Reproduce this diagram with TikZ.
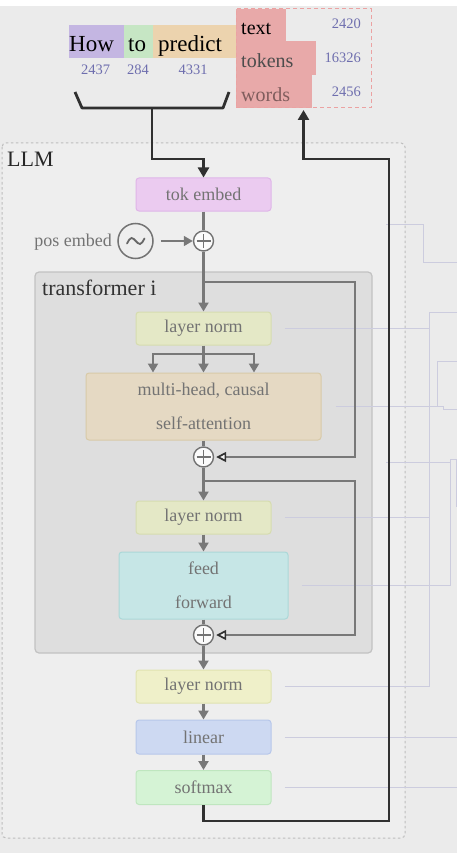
\documentclass[tikz,border=0pt]{standalone}
\usepackage{fontspec}
\setmainfont{Liberation Serif}
\usetikzlibrary{arrows.meta,calc}

\definecolor{bgout}{HTML}{EBEBEB}
\definecolor{bgin}{HTML}{EEEEEE}
\definecolor{llmline}{HTML}{BDBDBD}
\definecolor{trfill}{HTML}{DEDEDE}
\definecolor{trline}{HTML}{C2C2C2}
\definecolor{txtgray}{HTML}{737373}
\definecolor{numblue}{HTML}{6E6EAE}
\definecolor{cHow}{HTML}{C4B6E2}
\definecolor{cTo}{HTML}{C6E6C4}
\definecolor{cPred}{HTML}{ECD3AE}
\definecolor{cRed}{HTML}{E8A9A9}
\definecolor{cRedLine}{HTML}{EBA2A2}
\definecolor{tokF}{HTML}{EBCBF0}\definecolor{tokD}{HTML}{DFB5E8}
\definecolor{lnF}{HTML}{E4E8C6}\definecolor{lnD}{HTML}{D6DCAF}
\definecolor{lnoF}{HTML}{EFF0C9}\definecolor{lnoD}{HTML}{E0E3B0}
\definecolor{attF}{HTML}{E5D9C3}\definecolor{attD}{HTML}{D8CAA8}
\definecolor{ffF}{HTML}{C6E6E6}\definecolor{ffD}{HTML}{ABD8D8}
\definecolor{linF}{HTML}{CDD9F2}\definecolor{linD}{HTML}{B7C7EA}
\definecolor{smF}{HTML}{D5F3D5}\definecolor{smD}{HTML}{BFE6BF}
\definecolor{conngray}{HTML}{787878}
\definecolor{darkline}{HTML}{303030}
\definecolor{faintline}{HTML}{CCCCDE}

\newcommand\fsz[2]{\fontsize{#1}{#2}\selectfont}

\begin{document}
\begin{tikzpicture}[x=1pt,y=-1pt,
  blockbox/.style={rounded corners=3pt, draw, line width=1pt, inner sep=0pt,
    text=txtgray, font=\fsz{18}{34}, align=center,
    minimum width=135pt, minimum height=33pt},
  plusnode/.style={circle, draw=txtgray, fill=white!75!bgin, line width=1.4pt,
    minimum size=20pt, inner sep=0pt},
  conn/.style={draw=conngray, line width=2.3pt},
  gtip/.style={-{Triangle[width=10pt,length=9pt]}},
  rtip/.style={-{Triangle[width=10pt,length=10pt,fill=white!60!trfill,color=darkline,line width=1.7pt]}},
  darkconn/.style={draw=darkline, line width=2.8pt, line join=miter},
  dtip/.style={-{Triangle[width=11pt,length=10pt]}},
  faint/.style={draw=faintline, line width=1pt},
  numtxt/.style={text=numblue, font=\fsz{14.5}{16}, inner sep=0pt},
  wordtxt/.style={font=\fsz{23}{26}, inner sep=0pt},
  redtxt/.style={font=\fsz{20}{22}, inner sep=0pt},
  wordbox/.style={inner sep=0pt, minimum height=33pt}
]
\useasboundingbox (0,0) rectangle (457,853);
\fill[white] (0,0) rectangle (457,853);
\fill[bgout] (0,6) rectangle (457,853);

% LLM container
\draw[llmline, line width=1pt, dash pattern=on 2.5pt off 2.5pt, fill=bgin, rounded corners=4pt]
  (2,143) rectangle (405,838);
\node[anchor=base west, inner sep=0pt, font=\fsz{22}{24}, text=black!85] (llmlabel) at (7,167) {LLM};

% transformer block
\draw[fill=trfill, draw=trline, line width=1.2pt, rounded corners=4pt] (35,272) rectangle (372,653);
\node[anchor=base west, inner sep=0pt, font=\fsz{22}{24}, text=black!80] (trlabel) at (42,295) {transformer i};

% faint leader lines to the right
\draw[faint] (386,224) -| (423,262) -- (457,262);
\draw[faint] (386,462) -- (450,462);

% input tokens
\node[wordbox, fill=cHow, minimum width=55pt] (wHow) at (96.5,41.5) {};
\node[wordbox, fill=cTo, minimum width=29pt] (wTo) at (138.5,41.5) {};
\node[wordbox, fill=cPred, minimum width=83pt] (wPred) at (194.5,41.5) {};
\node[wordtxt, anchor=base west] (tHow) at (69,52) {How};
\node[wordtxt, anchor=base west] (tTo) at (128,52) {to};
\node[wordtxt, anchor=base west] (tPred) at (158,52) {predict};
\node[numtxt, anchor=base] (nHow) at (95.5,75) {2437};
\node[numtxt, anchor=base] (nTo) at (138,75) {284};
\node[numtxt, anchor=base] (nPred) at (193,75) {4331};

% output distribution
\fill[cRed] (236,9) rectangle (286,41);
\fill[cRed] (236,41) rectangle (316,75);
\fill[cRed] (236,75) rectangle (312,108);
\node[draw=cRedLine, line width=1pt, dash pattern=on 4pt off 3pt, inner sep=0pt,
  minimum width=135pt, minimum height=99pt] (out) at (303.5,58.5) {};
\node[redtxt, anchor=base west, text=black] (oText) at (241,35) {text};
\node[redtxt, anchor=base west, text=black!70] (oTok) at (241,68) {tokens};
\node[redtxt, anchor=base west, text=black!45!cRed] (oWords) at (241,102) {words};
\node[numtxt, anchor=base east] (pText) at (361,29) {2420};
\node[numtxt, anchor=base east] (pTok) at (361,63) {16326};
\node[numtxt, anchor=base east] (pWords) at (361,97) {2456};

% bracket gathering the tokens
\draw[darkconn, line join=round] (75,92) -- (82,108) -- (223,108) -- (229,92);
\coordinate (brk) at (152,108);
\coordinate (brkturn) at (152,159);

% blocks
\node[blockbox, fill=tokF, draw=tokD] (tok) at (203.5,194.5) {tok embed};
\node[plusnode] (p1) at (203.5,241) {};
\node[circle, draw=txtgray, line width=1.5pt, minimum size=35pt, inner sep=0pt] (pos) at (135.5,241) {};
\draw[txtgray!90!black, line width=1.8pt, line cap=round]
  (127,243.5) sin (131.5,238) cos (135.75,241) sin (140,244) cos (144.5,238.5);
\node[anchor=base east, inner sep=0pt, text=txtgray, font=\fsz{18}{20}] (poslabel) at (112,246) {pos embed};

\node[blockbox, fill=lnF, draw=lnD] (ln1) at (203.5,328.5) {layer norm};
\node[blockbox, fill=attF, draw=attD, minimum width=235pt, minimum height=67pt] (att) at (203.5,406.5)
  {multi-head, causal\\self-attention};
\node[plusnode] (p2) at (203.5,457) {};
\node[blockbox, fill=lnF, draw=lnD] (ln2) at (203.5,517.5) {layer norm};
\node[blockbox, fill=ffF, draw=ffD, minimum width=169pt, minimum height=67pt] (ff) at (203.5,585.5)
  {feed\\forward};
\node[plusnode] (p3) at (203.5,635) {};
\node[blockbox, fill=lnoF, draw=lnoD] (ln3) at (203.5,686.5) {layer norm};
\node[blockbox, fill=linF, draw=linD, minimum height=34pt] (lin) at (203.5,737) {linear};
\node[blockbox, fill=smF, draw=smD, minimum height=34pt] (sm) at (203.5,787.5) {softmax};

% plus signs
\foreach \p in {p1,p2,p3}{
  \draw[txtgray, line width=1.4pt] ([xshift=-7pt]\p.center) -- ([xshift=7pt]\p.center);
  \draw[txtgray, line width=1.4pt] ([yshift=-7pt]\p.center) -- ([yshift=7pt]\p.center);
}

% faint leader lines from blocks
\draw[faint] ([xshift=13pt]ln1.east) -| (429,312) -- (457,312);
\draw[faint] ([xshift=13pt]ln2.east) -| (429,312);
\draw[faint] ([xshift=13pt]ln3.east) -| (429,312);
\draw[faint] ([xshift=14pt]att.east) -| (437,361) -- (457,361);
\draw[faint] (437,406.5) -- (443,406.5) -- (443,409) -- (457,409);
\draw[faint] ([xshift=13pt]ff.east) -| (450,459) -- (456,459) -- (456,507);
\draw[faint] ([xshift=13pt]lin.east) -- (457,737);
\draw[faint] ([xshift=13pt]sm.east) -- (457,787.5);

% gray data flow
\draw[conn] (tok.south) -- (p1.north);
\draw[conn, line width=1.6pt, gtip] ([xshift=7pt]pos.east) -- (p1.west);
\draw[conn, gtip] (p1.south) -- (ln1.north);
\coordinate (r1) at (203.5,282);
\draw[conn, rtip, shorten >=2pt] (r1) -- (355,282) |- (p2.east);
\coordinate (split) at (203.5,354);
\draw[conn] (ln1.south) -- (split);
\draw[conn, gtip] (split) -| ([xshift=-50.5pt]att.north);
\draw[conn, gtip] (split) -| ([xshift=50.5pt]att.north);
\draw[conn, gtip] (split) -- (att.north);
\draw[conn] (att.south) -- (p2.north);
\draw[conn, gtip] (p2.south) -- (ln2.north);
\coordinate (r2) at (203.5,481);
\draw[conn, rtip, shorten >=2pt] (r2) -- (355,481) |- (p3.east);
\draw[conn, gtip] (ln2.south) -- (ff.north);
\draw[conn] (ff.south) -- (p3.north);
\draw[conn, gtip] (p3.south) -- (ln3.north);
\draw[conn, gtip] (ln3.south) -- (lin.north);
\draw[conn, gtip] (lin.south) -- (sm.north);

% dark input / output loop
\draw[darkconn, dtip] (brk) -- (brkturn) -| (tok.north);
\coordinate (ret1) at (389,821);
\coordinate (ret2) at (389,159);
\draw[darkconn, dtip, shorten >=1.5pt] (sm.south) |- (ret1) -- (ret2) -| (out.south);
\end{tikzpicture}
\end{document}
